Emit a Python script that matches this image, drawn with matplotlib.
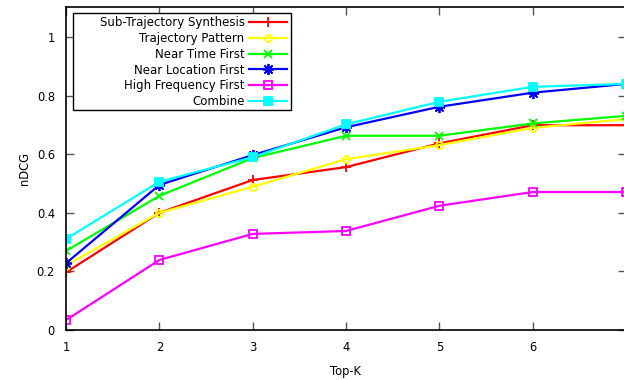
import numpy as np
import matplotlib
matplotlib.use("Agg")
from matplotlib import pyplot as plt
from matplotlib.patches import Rectangle

# Top-K values on the x axis
top_k = [1, 2, 3, 4, 5, 6, 7]

# nDCG per method
sub_traj = [0.197, 0.40, 0.512, 0.556, 0.637, 0.699, 0.699]
traj_pattern = [0.22, 0.40, 0.489, 0.583, 0.631, 0.690, 0.720]
near_time = [0.270, 0.458, 0.587, 0.663, 0.663, 0.705, 0.731]
near_loc = [0.228, 0.495, 0.597, 0.692, 0.762, 0.810, 0.840]
high_freq = [0.034, 0.239, 0.328, 0.338, 0.424, 0.471, 0.471]
combine = [0.311, 0.506, 0.590, 0.702, 0.779, 0.830, 0.840]

labels = ["Sub-Trajectory Synthesis", "Trajectory Pattern", "Near Time First",
          "Near Location First", "High Frequency First", "Combine"]

plt.rcParams['font.family'] = ['DejaVu Sans']

W, H = 624, 380
fig = plt.figure(figsize=(W / 100, H / 100), dpi=100)
ax = fig.add_axes([66 / W, 50 / H, 560 / W, 323 / H])

series = [sub_traj, traj_pattern, near_time, near_loc, high_freq, combine]
colors = ['#ff0000', '#ffff00', '#00ff00', '#0000ff', '#ff00ff', '#00ffff']
markers = ['+', 'o', 'x', (8, 2, 0), 's', 's']
fills = ['full', 'none', 'full', 'full', 'none', 'full']
sizes = [7, 5, 6, 8, 5.5, 6]

for ys, lab, c, m, f, s in zip(series, labels, colors, markers, fills, sizes):
    ax.plot(top_k, ys, color=c, marker=m, fillstyle=f, markersize=s,
            markeredgewidth=1.3, linewidth=1.6, label=lab)

ax.set_xlim(1, 7)
ax.set_ylim(0, 1.1025)
ax.set_xticks([1, 2, 3, 4, 5, 6])
ax.set_yticks([0, 0.2, 0.4, 0.6, 0.8, 1])
ax.set_yticklabels(['0', '0.2', '0.4', '0.6', '0.8', '1'])
ax.tick_params(direction='in', length=6, width=1, color='#555555',
               top=True, right=True, labelsize=8.3, pad=8)
for sp in ax.spines.values():
    sp.set_linewidth(1.2)

ax.set_xlabel("Top-K", fontsize=8.3, labelpad=8)
ax.set_ylabel("nDCG", fontsize=8.3, labelpad=4)

# legend in gnuplot style: text right-aligned, sample on the right, wide box
leg = ax.legend(loc='upper right', bbox_to_anchor=(287 / W, 1 - 16 / H),
                bbox_transform=fig.transFigure,
                markerfirst=False, numpoints=1, fontsize=8.5, frameon=False,
                borderaxespad=0, handlelength=3.2, labelspacing=0.24,
                borderpad=0, handletextpad=0.4)
box = Rectangle((73 / W, 1 - 110 / H), 218 / W, 97 / H, transform=fig.transFigure,
                fill=True, facecolor='white', edgecolor='black', linewidth=1.0,
                zorder=4)
ax.add_artist(box)
box.set_clip_on(False)
leg.set_zorder(5)

fig.savefig("out.png", dpi=100)
